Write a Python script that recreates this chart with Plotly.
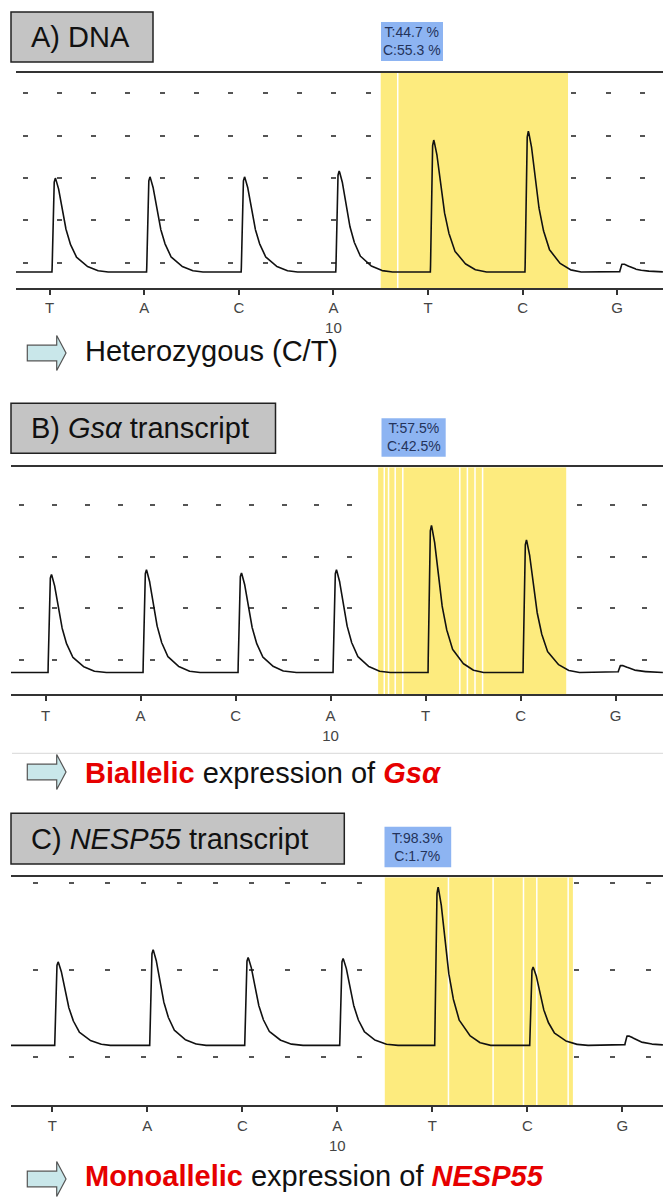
import numpy as np
import plotly.graph_objects as go

W, H = 663, 1199

# ---------------- data ----------------
DISP_NUM = [7, 8, 9, 10, 11, 12, 13]                 # dispensation numbers
DISP_BASE = ["T", "A", "C", "A", "T", "C", "G"]       # dispensed nucleotide
TICK_TEXT = ["T", "A", "C", "A<br>10", "T", "C", "G"]

# peak tops (grid-row units) and trace baselines
PEAKS_A = [2.00, 2.03, 2.03, 2.17, 2.90, 3.11, -0.03]
PEAKS_B = [1.66, 1.75, 1.69, 1.75, 2.61, 2.33, -0.10]
PEAKS_C = [1.09, 1.23, 1.14, 1.13, 1.95, 1.03, 0.24]
BASE_A, BASE_B, BASE_C = -0.22, -0.24, 0.13

# pyrogram peak template (offset after dispensation, fraction of peak height)
PEAK_DX = [0.0, 0.005, 0.018, 0.035, 0.063, 0.088, 0.124, 0.176, 0.246, 0.352, 0.458, 0.563]
PEAK_FRAC = [0.0, 0.29, 0.94, 1.0, 0.92, 0.77, 0.55, 0.34, 0.17, 0.07, 0.02, 0.0]

PCT_A = ["T:44.7 %", "C:55.3 %"]
PCT_B = ["T:57.5%", "C:42.5%"]
PCT_C = ["T:98.3%", "C:1.7%"]

HIGHLIGHT = [10.5, 12.48]
STRIPES_A = [10.68]
STRIPES_B = [10.565, 10.61, 10.68, 10.76, 11.36, 11.44, 11.52, 11.60]
STRIPES_C = [11.17, 11.64, 11.96, 12.10, 12.43]

RED = "#e60000"
TITLES = ["A) DNA", "B) <i>Gsα</i> transcript", "C) <i>NESP55</i> transcript"]
CONCLUSIONS = [
    "Heterozygous (C/T)",
    f"<b><span style='color:{RED}'>Biallelic</span></b> expression of <b><i><span style='color:{RED}'>Gsα</span></i></b>",
    f"<b><span style='color:{RED}'>Monoallelic</span></b> expression of <b><i><span style='color:{RED}'>NESP55</span></i></b>",
]

# ---------------- layout geometry (pixels) ----------------
panels = [
    dict(peaks=PEAKS_A, base=BASE_A, pct=PCT_A, stripes=STRIPES_A,
         left=16, top=72.7, bottom=288.3, tick0=49.6, step=94.6,
         yr=[-0.605, 4.49], dash="0px,6.5px,5px,22.8px", standoff=0,
         box=(11, 12, 153, 62), pbox=(381, 22, 443, 61),
         arrow_y=353, text_y=351),
    dict(peaks=PEAKS_B, base=BASE_B, pct=PCT_B, stripes=STRIPES_B,
         left=11, top=467.3, bottom=694.3, tick0=45.6, step=95.0,
         yr=[-0.66, 3.727], dash="0px,8.2px,5px,19.6px", standoff=2,
         box=(11, 403.3, 275.5, 453.3), pbox=(381.5, 418.3, 445.7, 456.7),
         arrow_y=772, text_y=773),
    dict(peaks=PEAKS_C, base=BASE_C, pct=PCT_C, stripes=STRIPES_C,
         left=11, top=877.3, bottom=1105, tick0=52.3, step=95.0,
         yr=[-0.556, 2.062], dash="0px,21.5px,5px,9.6px", standoff=1,
         box=(11, 813.3, 344.3, 864), pbox=(384.5, 826.7, 451.2, 867.3),
         arrow_y=1179, text_y=1176),
]


def px(x):
    return x / W


def py(y):
    return 1 - y / H


fig = go.Figure()
shapes = []
annotations = []

for i, p in enumerate(panels):
    n = "" if i == 0 else str(i + 1)
    xa, ya = "x" + n, "y" + n
    x_lo = DISP_NUM[0] - (p["tick0"] - p["left"]) / p["step"]
    x_hi = DISP_NUM[0] + (W - p["tick0"]) / p["step"]
    y0, y1 = p["yr"]

    # highlighted region (drawn as a filled trace so it hides the dashed grid)
    h0, h1 = HIGHLIGHT
    fig.add_trace(go.Scatter(x=[h0, h1, h1, h0, h0], y=[y0, y0, y1, y1, y0], mode="lines",
                             fill="toself", fillcolor="#fdeb7e", line=dict(width=0),
                             xaxis=xa, yaxis=ya, hoverinfo="skip", showlegend=False))
    sx, sy = [], []
    for s in p["stripes"]:
        sx += [s, s, None]
        sy += [y0, y1, None]
    fig.add_trace(go.Scatter(x=sx, y=sy, mode="lines", line=dict(color="white", width=1.5),
                             xaxis=xa, yaxis=ya, hoverinfo="skip", showlegend=False))

    xs = np.arange(x_lo, x_hi, 0.002)
    ys = np.full_like(xs, p["base"])
    for d, top in zip(DISP_NUM, p["peaks"]):
        ys += (top - p["base"]) * np.interp(xs - (d + 0.026), PEAK_DX, PEAK_FRAC, left=0, right=0)

    fig.add_trace(go.Scatter(x=xs, y=ys, mode="lines", xaxis=xa, yaxis=ya,
                             line=dict(color="#111", width=1.6), hoverinfo="skip",
                             showlegend=False))

    fig.layout["xaxis" + n] = dict(
        domain=[px(p["left"]), 1], anchor=ya, range=[x_lo, x_hi],
        showline=True, mirror=True, linecolor="#333", linewidth=2,
        ticks="outside", ticklen=5, tickwidth=1.5, tickcolor="#333",
        tickvals=DISP_NUM, ticktext=TICK_TEXT, showgrid=False, zeroline=False,
        ticklabelstandoff=p["standoff"],
        tickfont=dict(family="Liberation Sans Narrow, Liberation Sans, Arial", size=15, color="#444"),
        fixedrange=True,
    )
    fig.layout["yaxis" + n] = dict(
        domain=[py(p["bottom"]), py(p["top"])], anchor=xa, range=p["yr"],
        showgrid=True, gridcolor="#555", gridwidth=2, griddash=p["dash"],
        tick0=0, dtick=1, showticklabels=False, zeroline=False, showline=False,
        ticks="", fixedrange=True,
    )

    # title box
    bx0, by0, bx1, by1 = p["box"]
    shapes.append(dict(type="rect", xref="paper", yref="paper", x0=px(bx0), x1=px(bx1),
                       y0=py(by1), y1=py(by0), fillcolor="#c4c4c4",
                       line=dict(color="#222", width=1.5), layer="above"))
    annotations.append(dict(xref="paper", yref="paper", x=px(29), y=py((by0 + by1) / 2),
                            xanchor="left", yanchor="middle", showarrow=False, text=TITLES[i],
                            font=dict(family="Liberation Sans, Arial", size=29, color="#111")))

    # percentage box
    qx0, qy0, qx1, qy1 = p["pbox"]
    shapes.append(dict(type="rect", xref="paper", yref="paper", x0=px(qx0), x1=px(qx1),
                       y0=py(qy1), y1=py(qy0), fillcolor="#8db4f2",
                       line=dict(width=0), layer="above"))
    annotations.append(dict(xref="paper", yref="paper", x=px((qx0 + qx1) / 2), y=py((qy0 + qy1) / 2),
                            xanchor="center", yanchor="middle", showarrow=False,
                            text="<br>".join(p["pct"]),
                            font=dict(family="Liberation Sans Narrow, Liberation Sans, Arial", size=14,
                                      color="#24335a")))

    # arrow + conclusion
    ay = p["arrow_y"]
    x0 = 27.3
    pts = [(x0, ay - 7.8), (x0 + 29.4, ay - 7.8), (x0 + 29.4, ay - 17.5), (x0 + 38.7, ay),
           (x0 + 29.4, ay + 17.5), (x0 + 29.4, ay + 7.8), (x0, ay + 7.8)]
    path = "M " + " L ".join(f"{px(a):.5f},{py(b):.5f}" for a, b in pts) + " Z"
    shapes.append(dict(type="path", xref="paper", yref="paper", path=path,
                       fillcolor="#c9e7ea", line=dict(color="#555", width=1.2), layer="above"))
    annotations.append(dict(xref="paper", yref="paper", x=px(83), y=py(p["text_y"]),
                            xanchor="left", yanchor="middle", showarrow=False, text=CONCLUSIONS[i],
                            font=dict(family="Liberation Sans, Arial", size=29, color="#111")))

# light separator under panel B
shapes.append(dict(type="line", xref="paper", yref="paper", x0=px(12), x1=1, y0=py(753.3), y1=py(753.3),
                   line=dict(color="#d8d8d8", width=1)))

fig.update_layout(
    width=W, height=H, margin=dict(l=0, r=0, t=0, b=0),
    paper_bgcolor="white", plot_bgcolor="white",
    shapes=shapes, annotations=annotations, showlegend=False,
)

fig.write_html("out.html", config={"displayModeBar": False},
               post_script="document.body.style.margin='0';document.body.style.overflow='hidden';")
